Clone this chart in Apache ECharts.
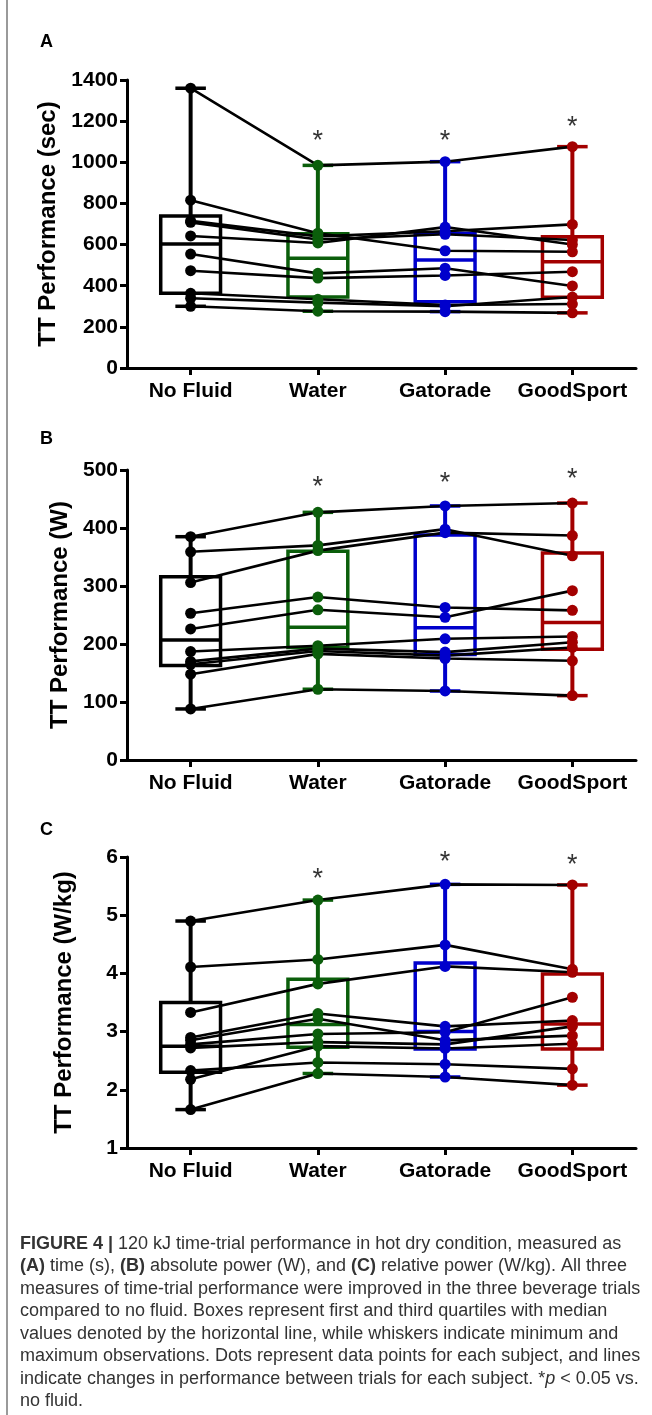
<!DOCTYPE html>
<html><head><meta charset="utf-8">
<script src="https://cdn.jsdelivr.net/npm/echarts@6/dist/echarts.min.js"></script>
<style>html,body{margin:0;padding:0;background:#fff}#c{width:652px;height:1415px}</style>
</head><body><div id="c"></div>
<script>
// ---------- DATA ----------
const categories = ['No Fluid', 'Water', 'Gatorade', 'GoodSport'];
const groupColors = ['#000000', '#0b5e0b', '#0000cc', '#a30000'];

// Panel A: time (s); one row per subject: [No Fluid, Water, Gatorade, GoodSport]
const timeSubjects = [
  [1360, 985, 1003, 1076],
  [300, 276, 274, 268],
  [339, 318, 300, 345],
  [363, 334, 306, 311],
  [473, 437, 450, 468],
  [554, 460, 485, 399],
  [642, 608, 685, 600],
  [708, 625, 650, 622],
  [715, 640, 665, 698],
  [816, 655, 570, 565]
];
// box stats per condition: [min, Q1, median, Q3, max]
const timeBoxes = [
  [300, 363, 603, 739, 1360],
  [276, 345, 533, 652, 985],
  [274, 322, 525, 655, 1003],
  [268, 344, 517, 638, 1076]
];
const timeStars = [[1, 1099], [2, 1099], [3, 1171]];

// Panel B: absolute power (W)
const powerSubjects = [
  [88, 122, 119, 111],
  [385, 427, 438, 443],
  [359, 370, 398, 352],
  [306, 361, 392, 387],
  [253, 281, 263, 258],
  [226, 259, 246, 292],
  [187, 197, 209, 213],
  [170, 192, 186, 203],
  [165, 188, 180, 194],
  [148, 183, 175, 171]
];
const powerBoxes = [
  [88, 163, 207, 316, 385],
  [122, 194, 229, 360, 427],
  [119, 182, 228, 388, 438],
  [111, 191, 237, 357, 443]
];
const powerStars = [[1, 470], [2, 476], [3, 483]];

// Panel C: relative power (W/kg)
const relSubjects = [
  [4.90, 5.26, 5.53, 5.52],
  [4.11, 4.24, 4.49, 4.07],
  [3.33, 3.82, 4.12, 4.02],
  [2.90, 3.31, 3.09, 3.19],
  [2.85, 3.22, 2.85, 2.93],
  [2.78, 2.96, 2.99, 3.59],
  [2.72, 2.82, 2.78, 3.09],
  [2.33, 2.47, 2.44, 2.36],
  [2.18, 2.75, 2.71, 2.79],
  [1.66, 2.28, 2.22, 2.08]
];
const relBoxes = [
  [1.66, 2.30, 2.75, 3.50, 4.90],
  [2.28, 2.73, 3.12, 3.90, 5.26],
  [2.22, 2.70, 3.00, 4.18, 5.53],
  [2.08, 2.70, 3.13, 3.99, 5.52]
];
const relStars = [[1, 5.62], [2, 5.90], [3, 5.86]];

const captionLines = [
  '{b|FIGURE 4 |}{n| 120 kJ time-trial performance in hot dry condition, measured as}',
  '{b|(A)}{n| time (s), }{b|(B)}{n| absolute power (W), and }{b|(C)}{n| relative power (W/kg). All three}',
  '{n|measures of time-trial performance were improved in the three beverage trials}',
  '{n|compared to no fluid. Boxes represent first and third quartiles with median}',
  '{n|values denoted by the horizontal line, while whiskers indicate minimum and}',
  '{n|maximum observations. Dots represent data points for each subject, and lines}',
  '{n|indicate changes in performance between trials for each subject. *}{i|p}{n| < 0.05 vs.}',
  '{n|no fluid.}'
];

// ---------- LAYOUT ----------
const FONT = '"Liberation Sans", Arial, sans-serif';
const panels = [
  {subjects: timeSubjects, boxes: timeBoxes, stars: timeStars, name: 'TT Performance (sec)', min: 0, max: 1400, interval: 200, top: 80, height: 288, letter: 'A', letterY: 42},
  {subjects: powerSubjects, boxes: powerBoxes, stars: powerStars, name: 'TT Performance (W)', min: 0, max: 500, interval: 100, top: 470, height: 290, letter: 'B', letterY: 439},
  {subjects: relSubjects, boxes: relBoxes, stars: relStars, name: 'TT Performance (W/kg)', min: 1, max: 6, interval: 1, top: 857, height: 291, letter: 'C', letterY: 830}
];

function renderBox(params, api) {
  const ci = api.value(0);
  const pMin = api.coord([ci, api.value(1)]);
  const pQ1 = api.coord([ci, api.value(2)]);
  const pMed = api.coord([ci, api.value(3)]);
  const pQ3 = api.coord([ci, api.value(4)]);
  const pMax = api.coord([ci, api.value(5)]);
  const band = api.size([1, 0])[0];
  const hw = band * 0.235, cw = band * 0.12;
  const color = groupColors[ci];
  const x = pMed[0];
  const st = (w) => ({stroke: color, lineWidth: w, fill: null});
  return {type: 'group', children: [
    {type: 'line', shape: {x1: x, y1: pMax[1], x2: x, y2: pQ3[1]}, style: st(4)},
    {type: 'line', shape: {x1: x, y1: pQ1[1], x2: x, y2: pMin[1]}, style: st(4)},
    {type: 'line', shape: {x1: x - cw, y1: pMax[1], x2: x + cw, y2: pMax[1]}, style: st(3.5)},
    {type: 'line', shape: {x1: x - cw, y1: pMin[1], x2: x + cw, y2: pMin[1]}, style: st(3.5)},
    {type: 'rect', shape: {x: x - hw, y: pQ3[1], width: 2 * hw, height: pQ1[1] - pQ3[1]}, style: {stroke: color, lineWidth: 3.5, fill: 'rgba(0,0,0,0)'}},
    {type: 'line', shape: {x1: x - hw, y1: pMed[1], x2: x + hw, y2: pMed[1]}, style: st(3.5)}
  ]};
}

const grid = [], xAxis = [], yAxis = [], series = [], graphic = [];
panels.forEach((p, i) => {
  grid.push({left: 127, width: 509, top: p.top, height: p.height, containLabel: false, outerBoundsMode: 'none'});
  xAxis.push({
    gridIndex: i, type: 'category', data: categories, boundaryGap: true,
    axisLine: {show: true, lineStyle: {color: '#000', width: 3}},
    axisTick: {show: true, alignWithLabel: true, length: 7, lineStyle: {color: '#000', width: 3}},
    axisLabel: {interval: 0, color: '#000', fontFamily: FONT, fontWeight: 'bold', fontSize: 21, margin: 13},
    splitLine: {show: false}
  });
  yAxis.push({
    gridIndex: i, type: 'value', min: p.min, max: p.max, interval: p.interval,
    axisLine: {show: true, lineStyle: {color: '#000', width: 3}},
    axisTick: {show: true, length: 7, lineStyle: {color: '#000', width: 3}},
    axisLabel: {color: '#000', fontFamily: FONT, fontWeight: 'bold', fontSize: 21, margin: 9,
      formatter: (v) => String(v)},
    splitLine: {show: false},
    name: p.name, nameLocation: 'middle', nameGap: 51,
    nameTextStyle: {color: '#000', fontFamily: FONT, fontWeight: 'bold', fontSize: 24}
  });
  series.push({
    type: 'custom', xAxisIndex: i, yAxisIndex: i, renderItem: renderBox, silent: true, z: 1,
    encode: {x: 0, y: [1, 2, 3, 4, 5]},
    data: p.boxes.map((b, ci) => [ci].concat(b))
  });
  p.subjects.forEach(s => {
    series.push({
      type: 'line', xAxisIndex: i, yAxisIndex: i, silent: true, z: 2, symbol: 'none',
      lineStyle: {color: '#000', width: 2.6, opacity: 1},
      data: s.map((v, ci) => [ci, v])
    });
  });
  const pts = [];
  p.subjects.forEach(s => s.forEach((v, ci) => pts.push({value: [ci, v], itemStyle: {color: groupColors[ci], opacity: 1}})));
  series.push({type: 'scatter', xAxisIndex: i, yAxisIndex: i, silent: true, z: 3, symbolSize: 11,
    itemStyle: {opacity: 1}, data: pts});
  series.push({
    type: 'scatter', xAxisIndex: i, yAxisIndex: i, silent: true, z: 4, symbolSize: 1,
    itemStyle: {color: 'rgba(0,0,0,0)'},
    label: {show: true, position: 'inside', formatter: '*', color: '#000', fontSize: 27, fontFamily: FONT},
    data: p.stars
  });
  graphic.push({type: 'text', x: 40, y: p.letterY, style: {
    text: p.letter, fontFamily: FONT, fontWeight: 'bold', fontSize: 18, fill: '#000',
    verticalAlign: 'middle', textVerticalAlign: 'middle'}});
});

graphic.push({type: 'line', shape: {x1: 7, y1: 0, x2: 7, y2: 1415}, style: {stroke: '#9a9a9a', lineWidth: 2}});
const capBase = {fontFamily: FONT, fontSize: 18, fontWeight: 'normal', fill: '#333', color: '#333'};
captionLines.forEach((t, k) => {
  graphic.push({type: 'text', x: 20, y: 1244 + k * 22.5, style: Object.assign({}, capBase, {
    text: t, verticalAlign: 'middle', textVerticalAlign: 'middle',
    rich: {
      n: Object.assign({}, capBase),
      b: Object.assign({}, capBase, {fontWeight: 'bold'}),
      i: Object.assign({}, capBase, {fontStyle: 'italic'})
    }
  })});
});

const chart = echarts.init(document.getElementById('c'), null, {renderer: 'canvas'});
chart.setOption({animation: false, backgroundColor: '#fff', grid, xAxis, yAxis, series, graphic});
</script></body></html>
